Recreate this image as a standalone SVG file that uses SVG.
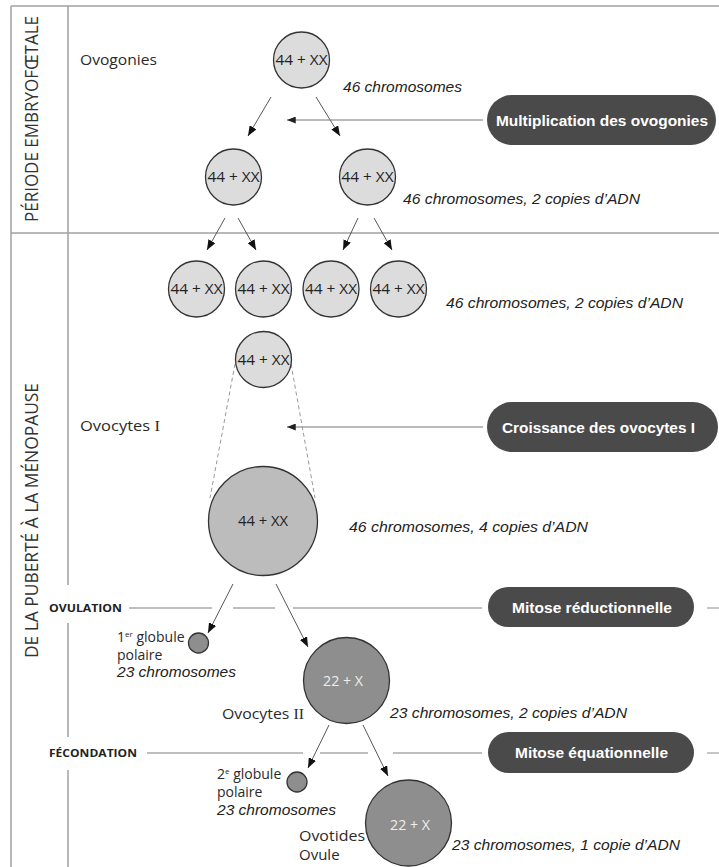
<svg xmlns="http://www.w3.org/2000/svg" width="719" height="867" viewBox="0 0 719 867">
<style>
.frame{stroke:#a0a0a0;stroke-width:1.5;fill:none}
.sep{stroke:#a8a8a8;stroke-width:1.3;fill:none}
.arr{stroke:#444;stroke-width:0.9;fill:none;marker-end:url(#ah)}
.conn{stroke:#777;stroke-width:1;fill:none}
.dash{stroke:#999;stroke-width:1;fill:none;stroke-dasharray:4 3}
.c1{fill:#dcdcdc;stroke:#333;stroke-width:1.3}
.c2{fill:#bcbcbc;stroke:#333;stroke-width:1.3}
.c3{fill:#8e8e8e;stroke:#333;stroke-width:1.3}
.pill{fill:#4a4a4a}
.pt{font-family:"Liberation Sans",Arial,sans-serif;font-weight:bold;font-size:15px;fill:#fff;text-anchor:middle}
.lab{font-family:"Open Sans","DejaVu Sans",sans-serif;font-size:15px;fill:#2a2a2a}
.cell{font-family:"Open Sans","DejaVu Sans",sans-serif;font-size:14px;fill:#222;text-anchor:middle}
.cellw{font-family:"Open Sans","DejaVu Sans",sans-serif;font-size:14px;fill:#eee;text-anchor:middle}
.it{font-family:"Liberation Sans",Arial,sans-serif;font-style:italic;font-size:14.5px;fill:#222}
.ev{font-family:"Open Sans","DejaVu Sans",sans-serif;font-weight:bold;font-size:11px;fill:#222}
.vert{font-family:"Open Sans","DejaVu Sans",sans-serif;font-size:17.5px;fill:#333;text-anchor:middle}
.rn{font-family:"Liberation Serif","Times New Roman",serif}
</style>
<defs>
<marker id="ah" viewBox="0 0 10 8" refX="10" refY="4" markerWidth="10" markerHeight="8" markerUnits="userSpaceOnUse" orient="auto">
<path d="M0,0 L10,4 L0,8 z" fill="#111"/>
</marker>
<marker id="ah2" viewBox="0 0 10 8" refX="10" refY="4" markerWidth="9" markerHeight="7" markerUnits="userSpaceOnUse" orient="auto">
<path d="M0,0 L10,4 L0,8 z" fill="#222"/>
</marker>
</defs>

<g id="frame">
<line class="frame" x1="11" y1="6" x2="719" y2="6"/>
<line class="frame" x1="11" y1="6" x2="11" y2="867"/>
<line class="frame" x1="11" y1="233" x2="719" y2="233"/>
<line class="frame" x1="68" y1="6" x2="68" y2="585"/>
<line class="frame" x1="68" y1="623" x2="68" y2="737"/>
<line class="frame" x1="68" y1="770" x2="68" y2="867"/>
<text class="vert" transform="translate(37.5,119) rotate(-90)" textLength="206" lengthAdjust="spacingAndGlyphs">PÉRIODE EMBRYOFŒTALE</text>
<text class="vert" transform="translate(37.5,520.5) rotate(-90)" textLength="275" lengthAdjust="spacingAndGlyphs">DE LA PUBERTÉ À LA MÉNOPAUSE</text>
</g>

<g id="connectors">
<line class="arr" x1="271" y1="97" x2="248" y2="136"/>
<line class="arr" x1="316" y1="97" x2="340" y2="136"/>
<line class="arr" x1="225" y1="218" x2="207" y2="250"/>
<line class="arr" x1="238" y1="218" x2="256" y2="250"/>
<line class="arr" x1="358" y1="218" x2="343" y2="250"/>
<line class="arr" x1="374" y1="218" x2="392" y2="250"/>
<line class="conn" x1="483" y1="120" x2="287" y2="120" style="marker-end:url(#ah2)"/>
<line class="conn" x1="483" y1="427" x2="287" y2="427" style="marker-end:url(#ah2)"/>
<line class="dash" x1="235" y1="364" x2="210" y2="498"/>
<line class="dash" x1="291" y1="364" x2="315" y2="498"/>
<line class="arr" x1="233" y1="584" x2="208" y2="633"/>
<line class="arr" x1="276" y1="584" x2="308" y2="647"/>
<line class="arr" x1="329" y1="725" x2="308" y2="768"/>
<line class="arr" x1="363" y1="725" x2="388" y2="776"/>
<line class="sep" x1="129" y1="608" x2="212" y2="608"/>
<line class="sep" x1="233" y1="608" x2="275" y2="608"/>
<line class="sep" x1="293" y1="608" x2="482" y2="608"/>
<line class="sep" x1="707" y1="608" x2="719" y2="608"/>
<line class="sep" x1="147" y1="753" x2="303" y2="753"/>
<line class="sep" x1="320" y1="753" x2="368" y2="753"/>
<line class="sep" x1="393" y1="753" x2="482" y2="753"/>
<line class="sep" x1="707" y1="753" x2="719" y2="753"/>
</g>

<g id="ovogonie-1"><circle class="c1" cx="301.5" cy="60" r="28"/><text class="cell" x="301.5" y="65" textLength="52" lengthAdjust="spacingAndGlyphs">44 + XX</text></g>
<g id="ovogonie-2a"><circle class="c1" cx="233.5" cy="177" r="28"/><text class="cell" x="233.5" y="182" textLength="52" lengthAdjust="spacingAndGlyphs">44 + XX</text></g>
<g id="ovogonie-2b"><circle class="c1" cx="367.5" cy="177" r="28"/><text class="cell" x="367.5" y="182" textLength="52" lengthAdjust="spacingAndGlyphs">44 + XX</text></g>
<g id="ovogonie-3a"><circle class="c1" cx="196.5" cy="289" r="28"/><text class="cell" x="196.5" y="294" textLength="52" lengthAdjust="spacingAndGlyphs">44 + XX</text></g>
<g id="ovogonie-3b"><circle class="c1" cx="263.5" cy="289" r="28"/><text class="cell" x="263.5" y="294" textLength="52" lengthAdjust="spacingAndGlyphs">44 + XX</text></g>
<g id="ovogonie-3c"><circle class="c1" cx="331" cy="289" r="28"/><text class="cell" x="331" y="294" textLength="52" lengthAdjust="spacingAndGlyphs">44 + XX</text></g>
<g id="ovogonie-3d"><circle class="c1" cx="398.5" cy="289" r="28"/><text class="cell" x="398.5" y="294" textLength="52" lengthAdjust="spacingAndGlyphs">44 + XX</text></g>
<g id="ovocyte-1-small"><circle class="c1" cx="263.5" cy="359.5" r="28"/><text class="cell" x="263.5" y="364.5" textLength="52" lengthAdjust="spacingAndGlyphs">44 + XX</text></g>
<g id="ovocyte-1-big"><circle class="c2" cx="263" cy="521" r="54.5"/><text class="cell" x="263" y="526" textLength="50" lengthAdjust="spacingAndGlyphs">44 + XX</text></g>
<g id="ovocyte-2"><circle class="c3" cx="346.5" cy="680.5" r="43"/><text class="cellw" x="343" y="686" textLength="40" lengthAdjust="spacingAndGlyphs">22 + X</text></g>
<g id="globule-1"><circle class="c3" cx="198.5" cy="643" r="10"/></g>
<g id="globule-2"><circle class="c3" cx="297" cy="782" r="10"/></g>
<g id="ovule"><circle class="c3" cx="408.5" cy="823" r="43"/><text class="cellw" x="410" y="830" textLength="40" lengthAdjust="spacingAndGlyphs">22 + X</text></g>

<g id="pill-multiplication"><rect class="pill" x="487" y="95" width="229" height="50" rx="25"/><text class="pt" x="602" y="125.5" textLength="212" lengthAdjust="spacingAndGlyphs">Multiplication des ovogonies</text></g>
<g id="pill-croissance"><rect class="pill" x="487" y="402" width="231" height="50" rx="25"/><text class="pt" x="598.5" y="432.5" textLength="193" lengthAdjust="spacingAndGlyphs">Croissance des ovocytes I</text></g>
<g id="pill-reductionnelle"><rect class="pill" x="488" y="587" width="206" height="40" rx="20"/><text class="pt" x="592" y="612.5" textLength="160" lengthAdjust="spacingAndGlyphs">Mitose réductionnelle</text></g>
<g id="pill-equationnelle"><rect class="pill" x="488" y="732" width="206" height="41" rx="20.5"/><text class="pt" x="591.5" y="758" textLength="153" lengthAdjust="spacingAndGlyphs">Mitose équationnelle</text></g>

<g id="labels">
<text class="lab" x="80" y="65" textLength="77" lengthAdjust="spacingAndGlyphs">Ovogonies</text>
<text class="lab" x="80" y="431" textLength="80" lengthAdjust="spacingAndGlyphs">Ovocytes <tspan class="rn">I</tspan></text>
<text class="lab" x="222" y="719" textLength="82" lengthAdjust="spacingAndGlyphs">Ovocytes <tspan class="rn">II</tspan></text>
<text class="lab" x="299" y="841" textLength="66" lengthAdjust="spacingAndGlyphs">Ovotides</text>
<text class="lab" x="299" y="860">Ovule</text>
<text class="lab" x="117" y="642" style="font-size:14px">1<tspan dy="-5" style="font-size:8px">er</tspan><tspan dy="5"> globule</tspan></text>
<text class="lab" x="117" y="660" style="font-size:14px">polaire</text>
<text class="it" x="117" y="677" textLength="119" lengthAdjust="spacingAndGlyphs">23 chromosomes</text>
<text class="lab" x="217" y="779" style="font-size:14px">2<tspan dy="-5" style="font-size:8px">e</tspan><tspan dy="5"> globule</tspan></text>
<text class="lab" x="217" y="797" style="font-size:14px">polaire</text>
<text class="it" x="217" y="815" textLength="119" lengthAdjust="spacingAndGlyphs">23 chromosomes</text>
<text class="ev" x="49" y="612" textLength="73" lengthAdjust="spacingAndGlyphs">OVULATION</text>
<text class="ev" x="49" y="757" textLength="88" lengthAdjust="spacingAndGlyphs">FÉCONDATION</text>
<text class="it" x="343" y="92" textLength="119" lengthAdjust="spacingAndGlyphs">46 chromosomes</text>
<text class="it" x="403" y="204" textLength="237" lengthAdjust="spacingAndGlyphs">46 chromosomes, 2 copies d’ADN</text>
<text class="it" x="446" y="308" textLength="237" lengthAdjust="spacingAndGlyphs">46 chromosomes, 2 copies d’ADN</text>
<text class="it" x="349" y="532" textLength="239" lengthAdjust="spacingAndGlyphs">46 chromosomes, 4 copies d’ADN</text>
<text class="it" x="390" y="718" textLength="237" lengthAdjust="spacingAndGlyphs">23 chromosomes, 2 copies d’ADN</text>
<text class="it" x="452" y="850" textLength="228" lengthAdjust="spacingAndGlyphs">23 chromosomes, 1 copie d’ADN</text>
</g>
</svg>
